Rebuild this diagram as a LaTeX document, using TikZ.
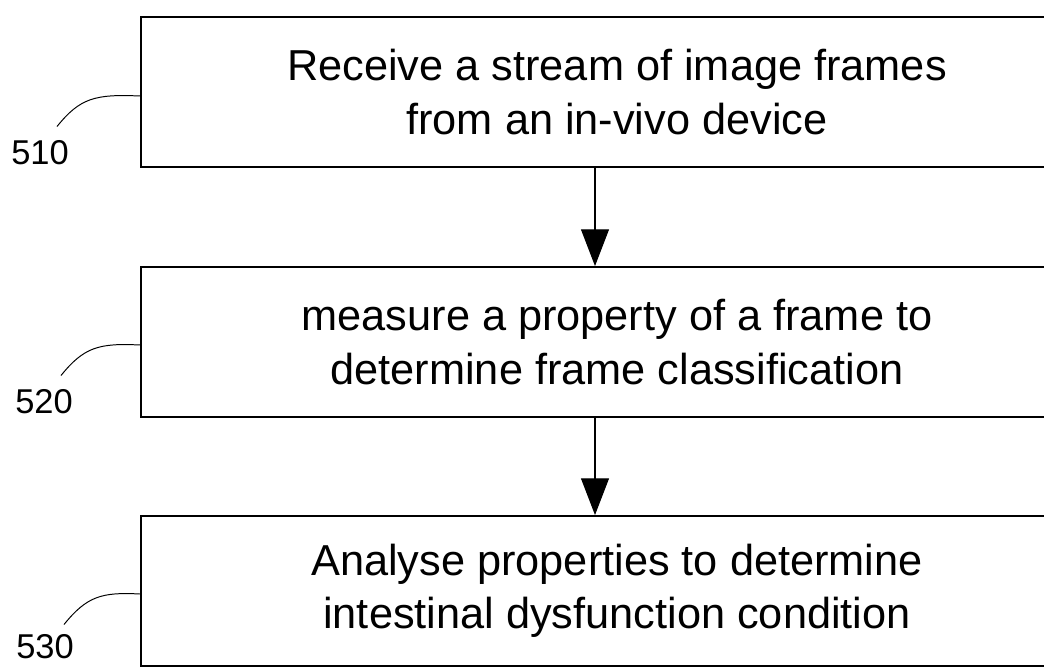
\documentclass[tikz,border=0pt]{standalone}
\usepackage{fontspec}
\setmainfont{Liberation Sans}
\usetikzlibrary{arrows.meta, positioning, calc}

\begin{document}
\begin{tikzpicture}[ x=0.025cm, y=-0.025cm,
      % one unit is one pixel of the reference, y runs downwards
      stepbox/.style={draw, line width=1.3pt, minimum width=23.8cm, minimum
      height=3.75cm, align=center, font=\fontsize{30.8pt}{38pt}\selectfont},
      flowarrow/.style={line width=0.8pt, -{Triangle[length=0.92cm,
      width=0.7cm]}},
      reflabel/.style={font=\fontsize{24.5pt}{28pt}\selectfont, inner sep=0pt},
      leader/.style={line width=0.7pt} ]

    \useasboundingbox (0,0) rectangle (1044,669);
    \clip (0,0) rectangle (1044,669);

    % Steps
    \node[stepbox] (b1) at (617,92) {Receive a stream of image frames\\from an
    in-vivo device}; \node[stepbox] (b2) at (617,342) {measure a property of a
    frame to\\determine frame classification}; \node[stepbox] (b3) at
    (617,591) {Analyse properties to determine\\intestinal dysfunction
    condition};

    % Arrows between steps
    \draw[flowarrow] ([xshift=-0.55cm]b1.south) -- ([xshift=-0.55cm]b2.north);
    \draw[flowarrow] ([xshift=-0.55cm]b2.south) -- ([xshift=-0.55cm]b3.north);

    % Reference numerals
    \node[reflabel] (l510) at (40,153) {510}; \node[reflabel] (l520) at
    (44,402) {520}; \node[reflabel] (l530) at (45,647) {530};

    % Leader lines
    \draw[leader] ($(l510.north)+(17,-14)$) .. controls (80,98) and (95,94)
    .. (b1.west |- 0,96); \draw[leader] ($(l520.north)+(17,-14)$) ..
    controls (84,347) and (99,343) .. (b2.west |- 0,345); \draw[leader]
    ($(l530.north)+(19,-10)$) .. controls (87,596) and (102,592) .. (b3.west
    |- 0,594);

\end{tikzpicture}
\end{document}
